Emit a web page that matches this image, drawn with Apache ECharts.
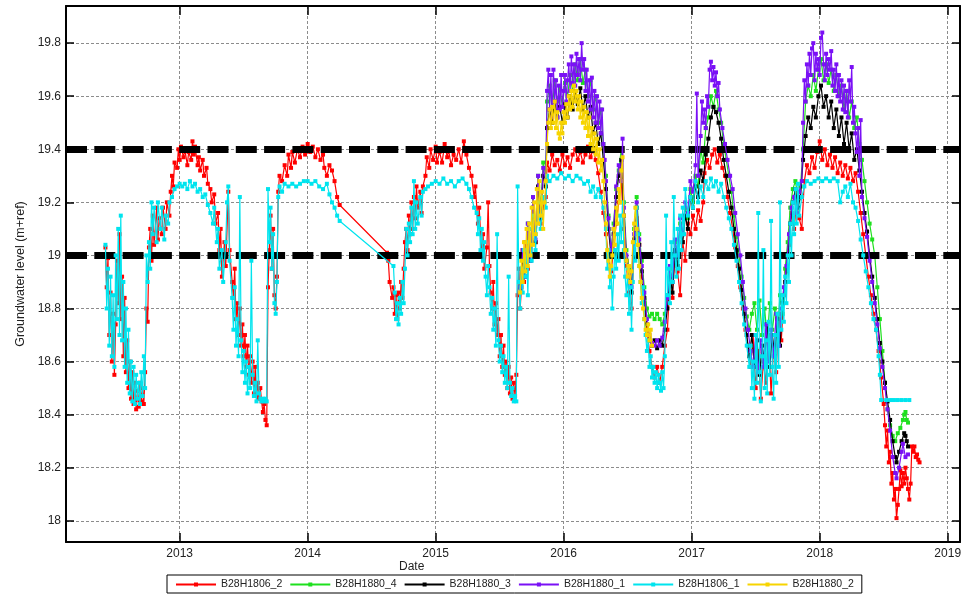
<!DOCTYPE html>
<html><head><meta charset="utf-8">
<script src="https://cdn.jsdelivr.net/npm/echarts@6/dist/echarts.min.js"></script>
<style>html,body{margin:0;padding:0;background:#fff}#c{width:975px;height:597px}</style>
</head><body><div id="c"></div>
<script>
// ---- tick labels ----
const xTicks = [2013, 2014, 2015, 2016, 2017, 2018, 2019];
const yTicks = [18, 18.2, 18.4, 18.6, 18.8, 19, 19.2, 19.4, 19.6, 19.8];
const thresholds = [19.4, 19.0];
const seriesNames = ['B28H1806_2', 'B28H1880_4', 'B28H1880_3', 'B28H1880_1', 'B28H1806_1', 'B28H1880_2'];

// ---- series values: [decimal year, groundwater level] ----
const B28H1806_2 = [
[2012.42,19.03],[2012.43,18.88],[2012.44,18.99],[2012.45,18.70],[2012.46,18.86],[2012.47,18.60],[2012.48,18.78],[2012.49,18.55],[2012.50,18.74],[2012.51,18.98],[2012.52,18.82],[2012.53,19.08],[2012.54,18.76],[2012.55,18.92],[2012.56,18.62],[2012.57,18.84],[2012.58,18.56],[2012.59,18.68],[2012.60,18.50],[2012.61,18.60],[2012.62,18.46],[2012.63,18.56],[2012.64,18.44],[2012.65,18.52],[2012.66,18.42],[2012.67,18.49],[2012.68,18.43],[2012.69,18.52],[2012.70,18.45],[2012.71,18.50],[2012.72,18.44],[2012.73,18.56],[2012.74,18.80],[2012.75,18.75],[2012.76,19.03],[2012.77,19.10],[2012.78,18.98],[2012.79,19.15],[2012.80,19.04],[2012.82,19.18],[2012.83,19.06],[2012.84,19.14],[2012.86,19.08],[2012.87,19.18],[2012.89,19.10],[2012.90,19.20],[2012.92,19.15],[2012.93,19.24],[2012.94,19.30],[2012.95,19.26],[2012.96,19.35],[2012.98,19.33],[2012.99,19.40],
[2013.00,19.36],[2013.01,19.41],[2013.03,19.37],[2013.04,19.40],[2013.06,19.34],[2013.07,19.39],[2013.09,19.36],[2013.10,19.43],[2013.11,19.38],[2013.12,19.41],[2013.14,19.34],[2013.15,19.37],[2013.16,19.32],[2013.18,19.36],[2013.19,19.30],[2013.21,19.33],[2013.22,19.27],[2013.24,19.25],[2013.25,19.20],[2013.27,19.23],[2013.28,19.12],[2013.30,19.16],[2013.31,19.02],[2013.32,19.10],[2013.33,18.92],[2013.35,19.05],[2013.36,18.96],[2013.38,19.24],[2013.39,19.02],[2013.41,18.90],[2013.42,18.84],[2013.43,18.95],[2013.44,18.76],[2013.45,18.82],[2013.46,18.70],[2013.47,18.80],[2013.48,18.66],[2013.49,18.74],[2013.50,18.62],[2013.51,18.70],[2013.52,18.58],[2013.53,18.66],[2013.54,18.55],[2013.55,18.62],[2013.56,18.52],[2013.57,18.60],[2013.58,18.48],[2013.59,18.58],[2013.60,18.47],[2013.61,18.52],[2013.62,18.46],[2013.63,18.50],[2013.64,18.45],[2013.65,18.41],[2013.66,18.44],[2013.67,18.38],[2013.68,18.36],[2013.69,18.88],[2013.70,19.02],[2013.71,19.15],[2013.72,18.95],[2013.73,19.10],[2013.74,18.85],[2013.75,18.80],[2013.76,18.92],[2013.77,19.24],[2013.78,19.30],[2013.80,19.28],[2013.82,19.34],[2013.84,19.30],[2013.85,19.38],[2013.87,19.33],[2013.88,19.39],[2013.90,19.35],[2013.92,19.40],[2013.94,19.37],[2013.96,19.41],[2013.98,19.38],
[2014.00,19.42],[2014.02,19.39],[2014.04,19.41],[2014.06,19.37],[2014.08,19.40],[2014.10,19.36],[2014.12,19.38],[2014.13,19.33],[2014.15,19.30],[2014.17,19.34],[2014.19,19.32],[2014.21,19.28],[2014.23,19.22],[2014.25,19.19],[2014.62,19.01],[2014.63,18.98],[2014.64,18.90],[2014.66,18.84],[2014.67,18.88],[2014.68,18.78],[2014.69,18.85],[2014.70,18.76],[2014.71,18.86],[2014.72,18.80],[2014.73,18.90],[2014.74,18.84],[2014.75,18.95],[2014.76,19.05],[2014.77,19.10],[2014.78,19.02],[2014.79,19.15],[2014.80,19.08],[2014.81,19.20],[2014.82,19.10],[2014.83,19.22],[2014.84,19.14],[2014.85,19.26],[2014.86,19.18],[2014.88,19.24],[2014.89,19.16],[2014.90,19.26],[2014.92,19.30],[2014.93,19.37],[2014.95,19.33],[2014.96,19.40],[2014.98,19.36],
[2015.00,19.41],[2015.01,19.35],[2015.03,19.39],[2015.05,19.35],[2015.07,19.42],[2015.09,19.37],[2015.10,19.40],[2015.12,19.34],[2015.14,19.38],[2015.16,19.36],[2015.18,19.40],[2015.20,19.35],[2015.22,19.43],[2015.24,19.38],[2015.26,19.33],[2015.28,19.30],[2015.30,19.22],[2015.31,19.26],[2015.33,19.12],[2015.34,19.18],[2015.36,19.00],[2015.37,19.08],[2015.38,18.95],[2015.40,19.03],[2015.41,19.20],[2015.42,18.96],[2015.43,18.86],[2015.44,18.80],[2015.45,18.90],[2015.46,18.74],[2015.47,18.82],[2015.48,18.70],[2015.49,18.76],[2015.50,18.62],[2015.51,18.70],[2015.52,18.58],[2015.53,18.66],[2015.54,18.55],[2015.55,18.60],[2015.56,18.50],[2015.57,18.58],[2015.58,18.48],[2015.59,18.54],[2015.60,18.46],[2015.61,18.52],[2015.62,18.47],[2015.63,18.55],[2015.64,18.85],[2015.65,18.95],[2015.66,18.80],[2015.67,18.88],[2015.68,19.02],[2015.69,18.90],[2015.70,19.05],[2015.72,18.95],[2015.73,19.10],[2015.75,19.00],[2015.76,19.15],[2015.78,19.05],[2015.80,19.20],[2015.82,19.12],[2015.84,19.18],[2015.86,19.22],[2015.87,19.35],[2015.89,19.32],[2015.91,19.38],[2015.93,19.34],[2015.95,19.36],[2015.97,19.32],[2015.99,19.38],
[2016.01,19.34],[2016.03,19.37],[2016.05,19.33],[2016.07,19.38],[2016.09,19.40],[2016.11,19.36],[2016.13,19.39],[2016.15,19.35],[2016.17,19.38],[2016.19,19.41],[2016.21,19.37],[2016.23,19.40],[2016.25,19.36],[2016.27,19.31],[2016.29,19.24],[2016.31,19.16],[2016.33,19.08],[2016.35,19.00],[2016.37,18.94],[2016.39,19.02],[2016.41,19.12],[2016.43,19.20],[2016.45,19.28],[2016.47,19.10],[2016.49,18.96],[2016.51,18.86],[2016.53,18.80],[2016.55,19.02],[2016.57,19.14],[2016.59,19.04],[2016.61,18.92],[2016.63,18.82],[2016.65,18.72],[2016.67,18.64],[2016.69,18.58],[2016.71,18.54],[2016.73,18.58],[2016.75,18.52],[2016.77,18.58],[2016.79,18.66],[2016.81,18.72],[2016.83,18.90],[2016.85,18.84],[2016.87,19.02],[2016.89,18.94],[2016.91,18.85],[2016.93,19.05],[2016.95,18.98],[2016.97,19.12],[2016.99,19.08],
[2017.01,19.15],[2017.03,19.10],[2017.05,19.17],[2017.07,19.13],[2017.09,19.20],[2017.10,19.31],[2017.12,19.36],[2017.14,19.33],[2017.16,19.38],[2017.18,19.40],[2017.20,19.35],[2017.22,19.38],[2017.24,19.33],[2017.26,19.30],[2017.28,19.22],[2017.30,19.16],[2017.32,19.10],[2017.34,19.03],[2017.36,18.96],[2017.38,18.88],[2017.40,18.80],[2017.42,18.72],[2017.44,18.66],[2017.46,18.58],[2017.48,18.70],[2017.50,18.50],[2017.52,18.64],[2017.54,18.46],[2017.56,18.60],[2017.58,18.52],[2017.60,18.70],[2017.62,18.48],[2017.64,18.66],[2017.66,18.56],[2017.68,18.78],[2017.70,18.68],[2017.72,18.85],[2017.74,18.94],[2017.76,19.04],[2017.78,19.16],[2017.80,19.10],[2017.82,19.20],[2017.84,19.14],[2017.86,19.10],[2017.88,19.28],[2017.90,19.34],[2017.92,19.31],[2017.94,19.37],[2017.96,19.33],[2017.98,19.39],
[2018.00,19.43],[2018.02,19.36],[2018.04,19.40],[2018.06,19.34],[2018.08,19.38],[2018.10,19.33],[2018.12,19.37],[2018.14,19.31],[2018.16,19.35],[2018.18,19.30],[2018.20,19.34],[2018.22,19.29],[2018.24,19.33],[2018.26,19.28],[2018.28,19.31],[2018.30,19.24],[2018.32,19.16],[2018.34,19.08],[2018.36,19.00],[2018.38,18.92],[2018.40,18.85],[2018.42,18.78],[2018.44,18.72],[2018.46,18.64],[2018.48,18.54],[2018.50,18.44],[2018.51,18.36],[2018.52,18.28],[2018.53,18.34],[2018.54,18.22],[2018.55,18.26],[2018.56,18.14],[2018.57,18.18],[2018.58,18.08],[2018.59,18.12],[2018.60,18.01],[2018.61,18.06],[2018.62,18.12],[2018.63,18.19],[2018.64,18.13],[2018.65,18.18],[2018.66,18.14],[2018.67,18.20],[2018.68,18.16],[2018.69,18.12],[2018.70,18.08],[2018.71,18.14],[2018.72,18.28],[2018.73,18.26],[2018.74,18.28],[2018.75,18.24],[2018.76,18.25],[2018.77,18.23],[2018.78,18.22]
];

const B28H1880_4 = [
[2015.66,18.90],[2015.68,19.02],[2015.70,18.95],[2015.72,19.12],[2015.74,19.00],[2015.76,19.22],[2015.78,19.08],[2015.80,19.30],[2015.82,19.18],[2015.84,19.35],[2015.86,19.30],[2015.87,19.58],[2015.89,19.64],[2015.91,19.55],[2015.93,19.66],[2015.95,19.58],[2015.97,19.63],[2015.99,19.56],[2016.01,19.65],[2016.03,19.60],[2016.05,19.68],[2016.07,19.62],[2016.09,19.72],[2016.11,19.66],[2016.13,19.74],[2016.15,19.65],[2016.17,19.70],[2016.19,19.60],[2016.21,19.66],[2016.23,19.55],[2016.25,19.60],[2016.27,19.50],[2016.29,19.55],[2016.31,19.42],[2016.33,19.30],[2016.35,19.15],[2016.37,19.02],[2016.39,19.12],[2016.41,19.25],[2016.43,19.32],[2016.45,19.40],[2016.47,19.20],[2016.49,19.02],[2016.51,18.95],[2016.53,18.90],[2016.55,19.10],[2016.57,19.22],[2016.59,19.08],[2016.61,18.98],[2016.63,18.88],[2016.65,18.80],[2016.67,18.77],[2016.69,18.78],[2016.71,18.76],[2016.73,18.78],[2016.75,18.76],[2016.77,18.74],[2016.79,18.78],[2016.81,18.85],[2016.83,18.95],[2016.85,18.90],[2016.87,19.05],[2016.89,19.00],[2016.91,19.12],[2016.93,19.08],[2016.95,19.18],[2016.97,19.14],[2016.99,19.25],
[2017.01,19.20],[2017.03,19.30],[2017.05,19.26],[2017.07,19.40],[2017.09,19.35],[2017.11,19.48],[2017.13,19.52],[2017.15,19.60],[2017.17,19.56],[2017.19,19.62],[2017.21,19.55],[2017.23,19.50],[2017.25,19.42],[2017.27,19.36],[2017.29,19.30],[2017.31,19.24],[2017.33,19.15],[2017.35,19.07],[2017.37,19.00],[2017.39,18.92],[2017.41,18.84],[2017.43,18.77],[2017.45,18.72],[2017.47,18.78],[2017.49,18.82],[2017.51,18.72],[2017.53,18.83],[2017.55,18.70],[2017.57,18.80],[2017.59,18.68],[2017.61,18.82],[2017.63,18.72],[2017.65,18.80],[2017.67,18.70],[2017.69,18.85],[2017.71,18.78],[2017.73,18.95],[2017.75,19.05],[2017.77,19.18],[2017.79,19.25],[2017.81,19.28],[2017.83,19.22],[2017.85,19.26],[2017.87,19.40],[2017.89,19.58],[2017.91,19.64],[2017.93,19.60],[2017.95,19.68],[2017.97,19.62],[2017.99,19.70],
[2018.01,19.74],[2018.03,19.66],[2018.05,19.72],[2018.07,19.65],[2018.09,19.70],[2018.11,19.62],[2018.13,19.68],[2018.15,19.60],[2018.17,19.64],[2018.19,19.55],[2018.21,19.62],[2018.23,19.52],[2018.25,19.58],[2018.27,19.48],[2018.29,19.52],[2018.31,19.42],[2018.33,19.36],[2018.35,19.28],[2018.37,19.20],[2018.39,19.12],[2018.41,19.06],[2018.43,19.00],[2018.45,18.88],[2018.47,18.76],[2018.49,18.64],[2018.51,18.52],[2018.53,18.42],[2018.55,18.36],[2018.57,18.32],[2018.59,18.30],[2018.61,18.33],[2018.63,18.35],[2018.65,18.38],[2018.66,18.40],[2018.67,18.41],[2018.68,18.38],[2018.69,18.37]
];

const B28H1880_3 = [
[2015.66,18.88],[2015.68,19.00],[2015.70,18.92],[2015.72,19.10],[2015.74,18.98],[2015.76,19.18],[2015.78,19.05],[2015.80,19.26],[2015.82,19.14],[2015.84,19.30],[2015.86,19.26],[2015.87,19.48],[2015.89,19.55],[2015.91,19.50],[2015.93,19.58],[2015.95,19.52],[2015.97,19.56],[2015.99,19.50],[2016.01,19.57],[2016.03,19.52],[2016.05,19.60],[2016.07,19.55],[2016.09,19.62],[2016.11,19.57],[2016.13,19.63],[2016.15,19.55],[2016.17,19.60],[2016.19,19.52],[2016.21,19.56],[2016.23,19.46],[2016.25,19.50],[2016.27,19.42],[2016.29,19.46],[2016.31,19.36],[2016.33,19.25],[2016.35,19.10],[2016.37,19.00],[2016.39,19.08],[2016.41,19.22],[2016.43,19.30],[2016.45,19.36],[2016.47,19.15],[2016.49,18.98],[2016.51,18.92],[2016.53,18.86],[2016.55,19.06],[2016.57,19.18],[2016.59,19.04],[2016.61,18.94],[2016.63,18.84],[2016.65,18.74],[2016.67,18.68],[2016.69,18.66],[2016.71,18.68],[2016.73,18.65],[2016.75,18.68],[2016.77,18.66],[2016.79,18.72],[2016.81,18.80],[2016.83,18.92],[2016.85,18.86],[2016.87,19.02],[2016.89,18.96],[2016.91,19.10],[2016.93,19.05],[2016.95,19.15],[2016.97,19.10],[2016.99,19.22],
[2017.01,19.18],[2017.03,19.26],[2017.05,19.22],[2017.07,19.32],[2017.09,19.28],[2017.11,19.38],[2017.13,19.44],[2017.15,19.52],[2017.17,19.56],[2017.19,19.54],[2017.21,19.50],[2017.23,19.44],[2017.25,19.36],[2017.27,19.30],[2017.29,19.24],[2017.31,19.18],[2017.33,19.10],[2017.35,19.02],[2017.37,18.95],[2017.39,18.87],[2017.41,18.78],[2017.43,18.70],[2017.45,18.62],[2017.47,18.70],[2017.49,18.58],[2017.51,18.68],[2017.53,18.55],[2017.55,18.66],[2017.57,18.60],[2017.59,18.74],[2017.61,18.58],[2017.63,18.70],[2017.65,18.62],[2017.67,18.76],[2017.69,18.66],[2017.71,18.82],[2017.73,18.90],[2017.75,19.00],[2017.77,19.12],[2017.79,19.20],[2017.81,19.25],[2017.83,19.18],[2017.85,19.22],[2017.87,19.36],[2017.89,19.45],[2017.91,19.52],[2017.93,19.48],[2017.95,19.56],[2017.97,19.52],[2017.99,19.60],
[2018.01,19.64],[2018.03,19.56],[2018.05,19.60],[2018.07,19.52],[2018.09,19.58],[2018.11,19.48],[2018.13,19.55],[2018.15,19.45],[2018.17,19.52],[2018.19,19.42],[2018.21,19.50],[2018.23,19.40],[2018.25,19.46],[2018.27,19.36],[2018.29,19.40],[2018.31,19.32],[2018.33,19.24],[2018.35,19.16],[2018.37,19.09],[2018.39,19.00],[2018.41,18.92],[2018.43,18.84],[2018.45,18.76],[2018.47,18.67],[2018.49,18.60],[2018.51,18.52],[2018.53,18.45],[2018.55,18.38],[2018.57,18.30],[2018.59,18.24],[2018.60,18.22],[2018.62,18.26],[2018.64,18.30],[2018.66,18.33],[2018.67,18.32],[2018.68,18.30],[2018.69,18.28]
];

const B28H1880_1 = [
[2015.66,18.88],[2015.68,19.02],[2015.70,18.92],[2015.72,19.12],[2015.74,18.98],[2015.76,19.22],[2015.78,19.06],[2015.80,19.30],[2015.82,19.15],[2015.84,19.33],[2015.86,19.28],[2015.87,19.62],[2015.88,19.70],[2015.89,19.55],[2015.90,19.68],[2015.91,19.52],[2015.92,19.70],[2015.93,19.58],[2015.94,19.66],[2015.95,19.52],[2015.96,19.64],[2015.97,19.55],[2015.98,19.68],[2015.99,19.56],[2016.00,19.62],[2016.01,19.68],[2016.02,19.58],[2016.03,19.66],[2016.04,19.72],[2016.05,19.62],[2016.06,19.75],[2016.07,19.65],[2016.08,19.72],[2016.09,19.64],[2016.10,19.76],[2016.11,19.68],[2016.12,19.74],[2016.13,19.66],[2016.14,19.80],[2016.15,19.70],[2016.16,19.74],[2016.17,19.62],[2016.18,19.70],[2016.19,19.58],[2016.20,19.66],[2016.21,19.55],[2016.22,19.67],[2016.23,19.52],[2016.24,19.62],[2016.25,19.50],[2016.26,19.60],[2016.27,19.48],[2016.28,19.58],[2016.29,19.46],[2016.30,19.55],[2016.31,19.42],[2016.32,19.36],[2016.33,19.28],[2016.35,19.14],[2016.37,19.02],[2016.39,19.10],[2016.41,19.26],[2016.43,19.34],[2016.45,19.28],[2016.46,19.44],[2016.47,19.18],[2016.49,19.00],[2016.51,18.93],[2016.53,18.88],[2016.55,19.08],[2016.57,19.20],[2016.59,19.06],[2016.61,18.96],[2016.63,18.86],[2016.65,18.76],[2016.67,18.70],[2016.69,18.67],[2016.71,18.66],[2016.73,18.68],[2016.75,18.66],[2016.77,18.69],[2016.79,18.75],[2016.81,18.84],[2016.83,18.96],[2016.85,18.90],[2016.87,19.06],[2016.89,19.00],[2016.91,19.14],[2016.93,19.08],[2016.95,19.20],[2016.97,19.16],[2016.99,19.28],
[2017.01,19.24],[2017.03,19.34],[2017.04,19.61],[2017.05,19.30],[2017.07,19.45],[2017.08,19.58],[2017.09,19.50],[2017.10,19.55],[2017.11,19.48],[2017.12,19.60],[2017.13,19.56],[2017.14,19.70],[2017.15,19.73],[2017.16,19.66],[2017.17,19.71],[2017.18,19.64],[2017.19,19.69],[2017.20,19.60],[2017.21,19.65],[2017.22,19.55],[2017.24,19.48],[2017.26,19.42],[2017.28,19.36],[2017.30,19.30],[2017.32,19.25],[2017.34,19.16],[2017.36,19.08],[2017.38,19.00],[2017.40,18.90],[2017.42,18.80],[2017.44,18.72],[2017.46,18.64],[2017.48,18.58],[2017.50,18.70],[2017.52,18.56],[2017.54,18.68],[2017.56,18.58],[2017.58,18.74],[2017.60,18.60],[2017.62,18.72],[2017.64,18.62],[2017.66,18.78],[2017.68,18.66],[2017.70,18.80],[2017.72,18.88],[2017.74,18.96],[2017.76,19.08],[2017.78,19.18],[2017.80,19.22],[2017.82,19.16],[2017.84,19.24],[2017.86,19.28],[2017.87,19.50],[2017.88,19.66],[2017.89,19.58],[2017.90,19.72],[2017.91,19.64],[2017.92,19.76],[2017.93,19.68],[2017.94,19.78],[2017.95,19.80],[2017.96,19.66],[2017.97,19.76],[2017.98,19.70],[2017.99,19.74],
[2018.00,19.68],[2018.01,19.82],[2018.02,19.84],[2018.03,19.72],[2018.04,19.66],[2018.05,19.76],[2018.06,19.68],[2018.07,19.74],[2018.08,19.70],[2018.09,19.77],[2018.10,19.64],[2018.11,19.70],[2018.12,19.62],[2018.13,19.72],[2018.14,19.60],[2018.15,19.68],[2018.16,19.58],[2018.17,19.66],[2018.18,19.55],[2018.19,19.64],[2018.20,19.54],[2018.21,19.62],[2018.22,19.52],[2018.23,19.66],[2018.24,19.58],[2018.25,19.71],[2018.26,19.50],[2018.27,19.56],[2018.28,19.46],[2018.29,19.39],[2018.30,19.48],[2018.31,19.30],[2018.32,19.51],[2018.33,19.22],[2018.35,19.14],[2018.37,19.07],[2018.39,18.98],[2018.41,18.90],[2018.43,18.82],[2018.45,18.74],[2018.47,18.65],[2018.49,18.58],[2018.51,18.50],[2018.53,18.42],[2018.55,18.34],[2018.57,18.24],[2018.59,18.18],[2018.60,18.16],[2018.62,18.20],[2018.64,18.26],[2018.65,18.29],[2018.67,18.24],[2018.69,18.25]
];

const B28H1806_1 = [
[2012.42,19.04],[2012.43,18.80],[2012.44,18.95],[2012.45,18.66],[2012.46,18.92],[2012.47,18.62],[2012.48,18.85],[2012.49,18.58],[2012.50,19.00],[2012.51,18.76],[2012.52,19.10],[2012.53,18.70],[2012.54,19.15],[2012.55,18.68],[2012.56,18.90],[2012.57,18.58],[2012.58,18.80],[2012.59,18.52],[2012.60,18.72],[2012.61,18.48],[2012.62,18.60],[2012.63,18.45],[2012.64,18.58],[2012.65,18.44],[2012.66,18.55],[2012.67,18.46],[2012.68,18.52],[2012.69,18.44],[2012.70,18.56],[2012.71,18.47],[2012.72,18.62],[2012.73,18.50],[2012.74,19.00],[2012.75,18.90],[2012.76,19.05],[2012.77,18.95],[2012.78,19.20],[2012.79,19.08],[2012.80,19.18],[2012.82,19.05],[2012.83,19.20],[2012.85,19.10],[2012.86,19.18],[2012.88,19.06],[2012.89,19.15],[2012.91,19.12],[2012.92,19.20],[2012.94,19.22],[2012.96,19.25],[2012.98,19.26],
[2013.00,19.27],[2013.02,19.26],[2013.04,19.27],[2013.06,19.25],[2013.08,19.28],[2013.10,19.26],[2013.12,19.27],[2013.14,19.24],[2013.16,19.25],[2013.18,19.22],[2013.20,19.23],[2013.22,19.19],[2013.24,19.16],[2013.26,19.12],[2013.27,19.18],[2013.29,19.05],[2013.30,19.10],[2013.31,18.95],[2013.33,19.02],[2013.34,18.90],[2013.36,19.05],[2013.37,19.20],[2013.38,19.26],[2013.39,18.98],[2013.41,18.84],[2013.42,18.72],[2013.43,18.88],[2013.44,18.66],[2013.45,18.76],[2013.46,18.62],[2013.47,19.22],[2013.48,18.68],[2013.49,18.56],[2013.50,18.64],[2013.51,18.52],[2013.52,18.60],[2013.53,18.48],[2013.54,18.58],[2013.55,18.50],[2013.56,18.98],[2013.57,18.55],[2013.58,18.47],[2013.59,18.52],[2013.60,18.45],[2013.61,18.68],[2013.62,18.48],[2013.63,18.46],[2013.64,18.45],[2013.65,18.46],[2013.66,18.45],[2013.67,18.46],[2013.68,18.45],[2013.69,19.25],[2013.70,19.05],[2013.71,19.18],[2013.72,18.95],[2013.73,19.08],[2013.74,18.82],[2013.75,18.78],[2013.76,18.90],[2013.77,19.22],[2013.78,19.26],[2013.80,19.24],[2013.82,19.27],[2013.85,19.26],[2013.88,19.27],[2013.91,19.26],[2013.94,19.27],[2013.97,19.28],
[2014.00,19.28],[2014.03,19.27],[2014.06,19.28],[2014.09,19.26],[2014.12,19.25],[2014.15,19.27],[2014.17,19.23],[2014.19,19.20],[2014.21,19.18],[2014.23,19.15],[2014.25,19.13],[2014.67,18.96],[2014.68,18.86],[2014.69,18.76],[2014.70,18.82],[2014.71,18.74],[2014.72,18.84],[2014.73,18.78],[2014.74,18.90],[2014.75,18.82],[2014.76,18.95],[2014.77,19.10],[2014.78,19.00],[2014.79,19.12],[2014.80,19.05],[2014.81,19.18],[2014.82,19.08],[2014.83,19.28],[2014.84,19.10],[2014.85,19.20],[2014.86,19.12],[2014.88,19.22],[2014.89,19.15],[2014.90,19.24],[2014.92,19.25],[2014.94,19.26],[2014.97,19.27],
[2015.00,19.28],[2015.03,19.27],[2015.06,19.29],[2015.09,19.27],[2015.12,19.28],[2015.15,19.26],[2015.18,19.28],[2015.21,19.29],[2015.24,19.27],[2015.26,19.25],[2015.28,19.22],[2015.30,19.18],[2015.32,19.16],[2015.33,19.08],[2015.34,19.14],[2015.35,19.02],[2015.36,19.10],[2015.37,18.98],[2015.38,19.05],[2015.39,18.92],[2015.40,18.85],[2015.41,18.96],[2015.42,18.88],[2015.43,18.78],[2015.44,18.84],[2015.45,18.72],[2015.46,18.80],[2015.47,18.66],[2015.48,19.08],[2015.49,18.68],[2015.50,18.60],[2015.51,18.66],[2015.52,18.56],[2015.53,18.62],[2015.54,18.52],[2015.55,18.58],[2015.56,18.50],[2015.57,18.92],[2015.58,18.52],[2015.59,18.47],[2015.60,18.50],[2015.61,18.45],[2015.62,18.47],[2015.63,18.45],[2015.64,19.26],[2015.65,18.90],[2015.66,18.80],[2015.67,18.95],[2015.68,18.86],[2015.69,19.02],[2015.70,18.92],[2015.71,19.05],[2015.72,18.85],[2015.73,19.10],[2015.75,18.98],[2015.76,19.15],[2015.78,19.02],[2015.80,19.20],[2015.82,19.10],[2015.84,19.22],[2015.86,19.18],[2015.87,19.30],[2015.89,19.28],[2015.92,19.30],[2015.95,19.29],[2015.98,19.31],
[2016.01,19.29],[2016.04,19.30],[2016.07,19.28],[2016.10,19.30],[2016.13,19.29],[2016.16,19.27],[2016.19,19.28],[2016.21,19.24],[2016.23,19.26],[2016.25,19.22],[2016.27,19.25],[2016.29,19.22],[2016.31,19.18],[2016.33,19.10],[2016.34,18.95],[2016.35,19.02],[2016.36,18.88],[2016.37,18.95],[2016.38,18.80],[2016.39,18.92],[2016.40,19.02],[2016.41,18.95],[2016.42,19.08],[2016.43,18.98],[2016.44,19.15],[2016.45,19.05],[2016.46,19.20],[2016.47,19.02],[2016.48,18.92],[2016.49,18.85],[2016.50,18.95],[2016.51,18.78],[2016.52,18.88],[2016.53,18.72],[2016.54,18.90],[2016.55,19.05],[2016.56,18.98],[2016.57,19.18],[2016.58,19.08],[2016.59,18.96],[2016.60,18.90],[2016.61,18.82],[2016.62,18.88],[2016.63,18.76],[2016.64,18.70],[2016.65,18.64],[2016.66,18.68],[2016.67,18.58],[2016.68,18.62],[2016.69,18.54],[2016.70,18.58],[2016.71,18.52],[2016.72,18.56],[2016.73,18.50],[2016.74,18.55],[2016.75,18.52],[2016.76,18.49],[2016.77,18.56],[2016.78,18.50],[2016.79,18.62],[2016.80,19.15],[2016.81,18.85],[2016.82,18.95],[2016.83,18.82],[2016.84,19.05],[2016.85,18.90],[2016.86,19.22],[2016.87,19.00],[2016.88,18.92],[2016.89,19.10],[2016.90,18.95],[2016.91,19.15],[2016.92,19.02],[2016.93,19.18],[2016.94,19.08],[2016.95,19.25],[2016.97,19.15],[2016.99,19.22],
[2017.01,19.18],[2017.03,19.28],[2017.05,19.20],[2017.07,19.26],[2017.09,19.22],[2017.11,19.28],[2017.13,19.25],[2017.15,19.29],[2017.17,19.26],[2017.19,19.28],[2017.21,19.24],[2017.23,19.27],[2017.25,19.22],[2017.27,19.18],[2017.29,19.14],[2017.31,19.10],[2017.33,19.04],[2017.35,18.98],[2017.37,18.90],[2017.39,18.82],[2017.41,18.74],[2017.43,18.66],[2017.45,18.58],[2017.46,18.66],[2017.47,18.50],[2017.48,18.60],[2017.49,18.46],[2017.50,18.70],[2017.51,18.52],[2017.52,19.16],[2017.53,18.56],[2017.54,18.45],[2017.55,18.62],[2017.56,19.02],[2017.57,18.50],[2017.58,18.68],[2017.59,18.48],[2017.60,18.75],[2017.61,18.55],[2017.62,19.13],[2017.63,18.58],[2017.64,18.46],[2017.65,18.70],[2017.66,18.52],[2017.67,18.78],[2017.68,18.58],[2017.69,19.20],[2017.70,18.72],[2017.71,18.85],[2017.72,18.75],[2017.73,18.92],[2017.74,18.82],[2017.75,19.00],[2017.76,18.90],[2017.77,19.12],[2017.78,19.00],[2017.79,19.20],[2017.80,19.08],[2017.81,19.25],[2017.82,19.12],[2017.83,19.27],[2017.84,19.15],[2017.86,19.22],[2017.88,19.26],[2017.90,19.28],[2017.93,19.27],[2017.96,19.28],[2017.99,19.29],
[2018.02,19.28],[2018.05,19.29],[2018.08,19.28],[2018.11,19.29],[2018.14,19.28],[2018.16,19.20],[2018.18,19.24],[2018.20,19.26],[2018.22,19.22],[2018.24,19.27],[2018.26,19.20],[2018.28,19.18],[2018.30,19.13],[2018.32,19.06],[2018.34,19.00],[2018.36,18.94],[2018.38,18.88],[2018.40,18.82],[2018.42,18.76],[2018.44,18.72],[2018.46,18.62],[2018.47,18.55],[2018.48,18.455],[2018.52,18.455],[2018.55,18.455],[2018.58,18.455],[2018.61,18.455],[2018.64,18.455],[2018.67,18.455],[2018.70,18.455]
];

const B28H1880_2 = [
[2015.66,18.86],[2015.67,18.98],[2015.68,18.90],[2015.69,19.05],[2015.70,18.94],[2015.71,19.10],[2015.72,18.96],[2015.73,19.12],[2015.74,19.00],[2015.75,19.18],[2015.76,19.04],[2015.77,19.20],[2015.78,19.08],[2015.79,19.25],[2015.80,19.12],[2015.81,19.28],[2015.82,19.15],[2015.83,19.24],[2015.84,19.10],[2015.85,19.20],[2015.86,19.28],[2015.87,19.42],[2015.88,19.50],[2015.89,19.55],[2015.90,19.48],[2015.91,19.56],[2015.92,19.50],[2015.93,19.58],[2015.94,19.48],[2015.95,19.54],[2015.96,19.46],[2015.97,19.44],[2015.98,19.50],[2015.99,19.46],[2016.00,19.54],[2016.01,19.50],[2016.02,19.57],[2016.03,19.52],[2016.04,19.60],[2016.05,19.55],[2016.06,19.62],[2016.07,19.56],[2016.08,19.64],[2016.09,19.58],[2016.10,19.62],[2016.11,19.55],[2016.12,19.60],[2016.13,19.52],[2016.14,19.58],[2016.15,19.50],[2016.16,19.56],[2016.17,19.48],[2016.18,19.54],[2016.19,19.45],[2016.20,19.52],[2016.21,19.42],[2016.22,19.48],[2016.23,19.40],[2016.24,19.46],[2016.25,19.38],[2016.26,19.44],[2016.27,19.35],[2016.28,19.40],[2016.29,19.32],[2016.30,19.36],[2016.31,19.28],[2016.32,19.20],[2016.33,19.12],[2016.34,19.02],[2016.35,18.98],[2016.36,18.92],[2016.37,18.96],[2016.38,19.00],[2016.39,19.10],[2016.40,19.04],[2016.41,19.18],[2016.42,19.12],[2016.43,19.25],[2016.44,19.20],[2016.45,19.32],[2016.46,19.37],[2016.47,19.15],[2016.48,19.02],[2016.49,18.98],[2016.50,18.92],[2016.51,18.96],[2016.52,18.90],[2016.53,18.94],[2016.54,19.05],[2016.55,19.12],[2016.56,19.18],[2016.57,19.10],[2016.58,19.04],[2016.59,18.96],[2016.60,18.90],[2016.61,18.84],[2016.62,18.80],[2016.63,18.76],[2016.64,18.72],[2016.65,18.70],[2016.66,18.74],[2016.67,18.68],[2016.68,18.72],[2016.69,18.66]
];

const seriesData = [B28H1806_2, B28H1880_4, B28H1880_3, B28H1880_1, B28H1806_1, B28H1880_2];
const seriesColors = ['#ff0000', '#1ee01e', '#000000', '#7a10f5', '#00e4ee', '#f7d400'];

const FONT = 'Liberation Sans, Arial, sans-serif';
const chart = echarts.init(document.getElementById('c'), null, {renderer: 'canvas'});

const lineSeries = seriesNames.map((n, i) => ({
  name: n,
  type: 'line',
  data: seriesData[i],
  color: seriesColors[i],
  symbol: 'rect',
  symbolSize: 4,
  showSymbol: true,
  showAllSymbol: true,
  lineStyle: {width: 1.2, color: seriesColors[i]},
  itemStyle: {color: seriesColors[i]},
  emphasis: {disabled: true},
  z: 2 + i
}));

lineSeries.push({
  name: 'thresholds',
  type: 'line',
  data: [],
  z: 20,
  markLine: {
    silent: true,
    symbol: 'none',
    label: {show: false},
    lineStyle: {color: '#000', width: 7, type: [21, 7.3]},
    data: thresholds.map(v => ({yAxis: v}))
  }
});

const common = {
  axisLine: {show: true, onZero: false, lineStyle: {color: '#000', width: 2}},
};

chart.setOption({
  animation: false,
  backgroundColor: '#fff',
  textStyle: {fontFamily: FONT},
  grid: {left: 66, top: 6, right: 15, bottom: 55, containLabel: false},
  xAxis: [{
    type: 'value', min: 2012.112, max: 2019.096, position: 'bottom',
    ...common,
    axisTick: {show: true, inside: true, length: 9, customValues: xTicks, lineStyle: {color: '#000', width: 1.5}},
    axisLabel: {customValues: xTicks, color: '#222', fontSize: 12, fontFamily: FONT, margin: 6, formatter: v => String(Math.round(v))},
    splitLine: {show: true, lineStyle: {color: '#8c8c8c', width: 1, type: [3, 2]}}
  }, {
    type: 'value', min: 2012.112, max: 2019.096, position: 'top',
    ...common,
    axisTick: {show: true, inside: true, length: 9, customValues: xTicks, lineStyle: {color: '#000', width: 1.5}},
    axisLabel: {show: false},
    splitLine: {show: false}
  }],
  yAxis: [{
    type: 'value', min: 17.92, max: 19.94, position: 'left',
    name: 'Groundwater level (m+ref)', nameLocation: 'middle', nameGap: 37,
    nameTextStyle: {color: '#222', fontSize: 12.5, fontFamily: FONT},
    ...common,
    axisTick: {show: true, inside: true, length: 8, customValues: yTicks, lineStyle: {color: '#000', width: 1.5}},
    axisLabel: {customValues: yTicks, color: '#222', fontSize: 12, fontFamily: FONT, margin: 5},
    splitLine: {show: true, lineStyle: {color: '#8c8c8c', width: 1, type: [3, 2]}}
  }, {
    type: 'value', min: 17.92, max: 19.94, position: 'right',
    ...common,
    axisTick: {show: true, inside: true, length: 8, customValues: yTicks, lineStyle: {color: '#000', width: 1.5}},
    axisLabel: {show: false},
    splitLine: {show: false}
  }],
  legend: {
    data: seriesNames,
    left: 167, top: 575,
    orient: 'horizontal',
    itemWidth: 40, itemHeight: 5, itemGap: 7,
    padding: [4, 8, 3, 8],
    borderColor: '#000', borderWidth: 1, borderRadius: 0,
    textStyle: {fontSize: 10.5, color: '#222', fontFamily: FONT},
    selectedMode: false
  },
  graphic: [{
    type: 'text', left: 413 - 14, top: 561,
    style: {text: 'Date', fontSize: 12, fill: '#222', font: '12px ' + FONT}
  }],
  series: lineSeries
});
</script>
</body></html>
